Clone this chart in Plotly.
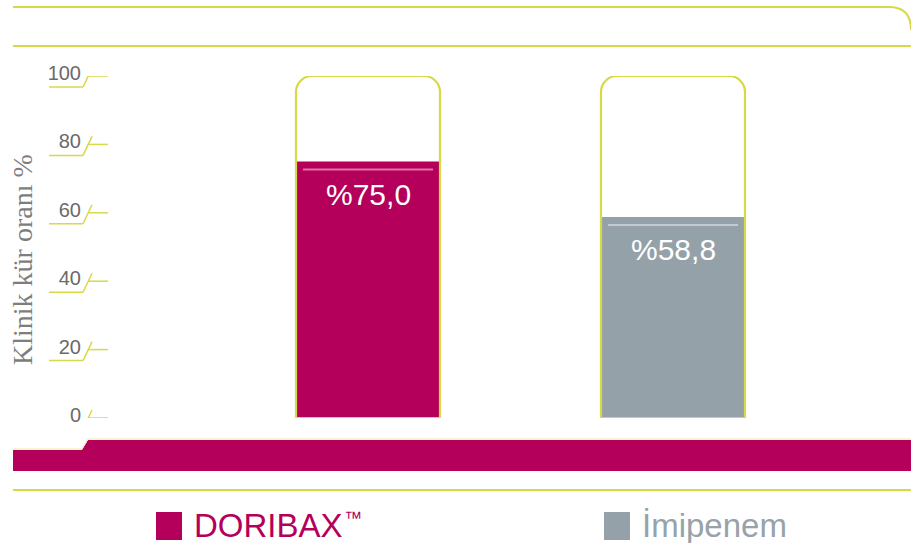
import plotly.graph_objects as go

# ---- data ----
categories = ["DORIBAX™", "İmipenem"]
cure_rate = [75.0, 58.8]
value_labels = ["%75,0", "%58,8"]
scale_max = [100, 100]
tick_values = [0, 20, 40, 60, 80, 100]
tick_labels = ["0", "20", "40", "60", "80", "100"]
y_title = "Klinik kür oranı %"

# ---- style ----
W, H = 911, 543
MAGENTA = "#b4005a"
GREY = "#95a1a9"
YELLOW = "#d6da48"
bar_colors = [MAGENTA, GREY]
stripe_colors = ["#e2749f", "#c3cbd0"]
legend_text_colors = [MAGENTA, "#97a2aa"]


def px(x):
    return x / W


def py(y):
    return 1 - y / H


x_idx = list(range(len(categories)))

fig = go.Figure()
# filled value bars
fig.add_trace(go.Bar(
    x=x_idx, y=cure_rate, width=0.4721,
    marker=dict(color=bar_colors, line=dict(width=0)),
    hoverinfo="skip", showlegend=False,
))
# outline "glass" (scale max) with rounded top
fig.add_trace(go.Bar(
    x=x_idx, y=scale_max, width=0.4721,
    marker=dict(color="rgba(0,0,0,0)", line=dict(color=YELLOW, width=2.2),
                cornerradius=16),
    hoverinfo="skip", showlegend=False,
))

shapes = []
# light stripe just below each bar top
for i, v in enumerate(cure_rate):
    shapes.append(dict(
        type="line", xref="x", xsizemode="pixel", xanchor=i, x0=-65, x1=65,
        yref="y", ysizemode="pixel", yanchor=v, y0=-8, y1=-8,
        line=dict(color=stripe_colors[i], width=2), layer="above",
    ))

# tick decorations (underline, slash, dash)
for t in tick_values:
    for (xa, ya, xb, yb) in [(49, -11, 83, -11), (83, -11, 92, 8), (88, 0, 108, 0)]:
        shapes.append(dict(
            type="line", xref="paper", x0=px(xa), x1=px(xb),
            yref="y", ysizemode="pixel", yanchor=t, y0=ya, y1=yb,
            line=dict(color=YELLOW, width=1.5),
        ))

# frame decorations
shapes.append(dict(type="path", xref="paper", yref="paper",
                   path=f"M {px(13)},{py(7)} L {px(889)},{py(7)} Q {px(911)},{py(7)} {px(911)},{py(30)}",
                   line=dict(color=YELLOW, width=2)))
shapes.append(dict(type="line", xref="paper", yref="paper",
                   x0=px(13), x1=px(911), y0=py(46), y1=py(46),
                   line=dict(color=YELLOW, width=2)))
shapes.append(dict(type="path", xref="paper", yref="paper",
                   path=(f"M {px(13)},{py(450)} L {px(82)},{py(450)} L {px(88)},{py(440)} "
                         f"L {px(911)},{py(440)} L {px(911)},{py(471)} L {px(13)},{py(471)} Z"),
                   fillcolor=MAGENTA, line=dict(width=0)))
shapes.append(dict(type="path", xref="paper", yref="paper",
                   path=(f"M {px(13)},{py(449)} L {px(82)},{py(449)} L {px(88)},{py(439)} "
                         f"L {px(911)},{py(439)}"),
                   line=dict(color="#efeaa8", width=1)))
shapes.append(dict(type="line", xref="paper", yref="paper",
                   x0=px(13), x1=px(911), y0=py(490), y1=py(490),
                   line=dict(color=YELLOW, width=2)))

# legend squares
legend_x = [156, 604]
for i, lx in enumerate(legend_x):
    shapes.append(dict(type="rect", xref="paper", yref="paper",
                       x0=px(lx), x1=px(lx + 26), y0=py(540), y1=py(512),
                       fillcolor=bar_colors[i], line=dict(width=0)))

annotations = []
for i, (v, lab) in enumerate(zip(cure_rate, value_labels)):
    annotations.append(dict(
        x=i, y=v, xref="x", yref="y", text=lab, showarrow=False,
        yanchor="middle", yshift=-33,
        font=dict(family="Liberation Sans, Arial, sans-serif", size=30, color="white"),
    ))

for i, lx in enumerate(legend_x):
    name = categories[i]
    mark = ""
    if name.endswith("™"):
        name, mark = name[:-1], "™"
    annotations.append(dict(
        x=px(lx + 36), y=py(525), xref="paper", yref="paper", text=name,
        showarrow=False, xanchor="left", yanchor="middle",
        font=dict(family="Liberation Sans, Arial, sans-serif", size=33,
                  color=legend_text_colors[i]),
    ))
    if mark:
        annotations.append(dict(
            x=px(342), y=py(518), xref="paper", yref="paper", text=mark,
            showarrow=False, xanchor="left", yanchor="middle",
            font=dict(family="Liberation Sans, Arial, sans-serif", size=18,
                      color=legend_text_colors[i]),
        ))

annotations.append(dict(
    x=px(22), y=py(260), xref="paper", yref="paper", text=y_title,
    showarrow=False, textangle=-90, xanchor="center", yanchor="middle",
    font=dict(family="Liberation Serif, Times New Roman, serif", size=28, color="#7d7d7d"),
))

fig.update_layout(
    width=W, height=H,
    margin=dict(l=0, r=0, t=0, b=0),
    paper_bgcolor="white", plot_bgcolor="white",
    barmode="overlay",
    shapes=shapes, annotations=annotations,
    xaxis=dict(domain=[px(84), 1], range=[(84 - 368) / 305, (911 - 368) / 305],
               showgrid=False, zeroline=False, showticklabels=False, showline=False,
               fixedrange=True),
    yaxis=dict(domain=[py(418), py(76)], range=[0, 100],
               tickvals=tick_values, ticktext=tick_labels,
               tickfont=dict(family="Liberation Sans Narrow, Arial Narrow, Liberation Sans, sans-serif",
                             size=20, color="#6a6a6a"),
               ticklabelshift=-3, ticklabelstandoff=2,
               showgrid=False, zeroline=False, showline=False, ticks="",
               automargin=False, fixedrange=True),
)

fig.write_html("out.html", config={"displayModeBar": False},
               post_script="document.body.style.margin='0';document.body.style.overflow='hidden';")
